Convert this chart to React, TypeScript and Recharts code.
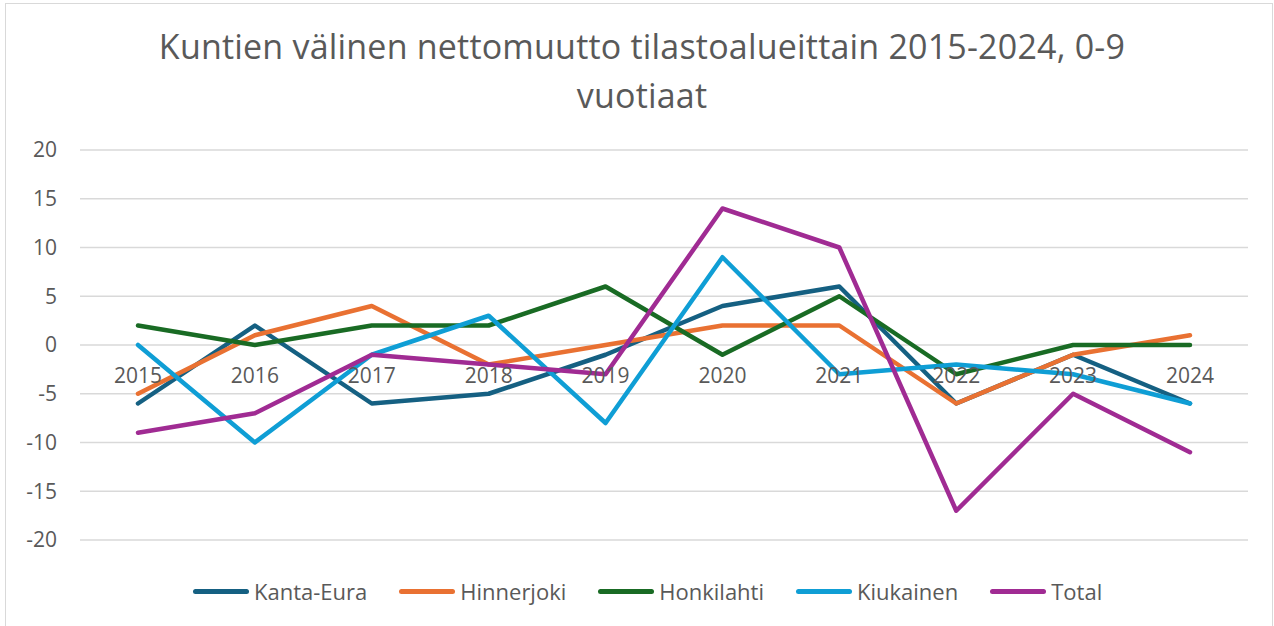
import { LineChart, Line, XAxis, YAxis, CartesianGrid } from "recharts";

const years = ["2015", "2016", "2017", "2018", "2019", "2020", "2021", "2022", "2023", "2024"];
const kantaEura = [-6, 2, -6, -5, -1, 4, 6, -6, -1, -6];
const hinnerjoki = [-5, 1, 4, -2, 0, 2, 2, -6, -1, 1];
const honkilahti = [2, 0, 2, 2, 6, -1, 5, -3, 0, 0];
const kiukainen = [0, -10, -1, 3, -8, 9, -3, -2, -3, -6];
const total = [-9, -7, -1, -2, -3, 14, 10, -17, -5, -11];
const yTicks = [-20, -15, -10, -5, 0, 5, 10, 15, 20];

const series = [
  { key: "kantaEura", name: "Kanta-Eura", color: "#156082", values: kantaEura },
  { key: "hinnerjoki", name: "Hinnerjoki", color: "#E97132", values: hinnerjoki },
  { key: "honkilahti", name: "Honkilahti", color: "#196B24", values: honkilahti },
  { key: "kiukainen", name: "Kiukainen", color: "#0F9ED5", values: kiukainen },
  { key: "total", name: "Total", color: "#A02B93", values: total },
];

const data = years.map((year, i) => {
  const row: Record<string, string | number> = { year };
  series.forEach((s) => {
    row[s.key] = s.values[i];
  });
  return row;
});

const FONT = "'Open Sans', sans-serif";
const TEXT = "#595959";

// year labels sit next to the zero line, not at the bottom of the plot
const YearTick = (props: any) => (
  <text
    x={props.x}
    y={props.y - 165}
    textAnchor="middle"
    dominantBaseline="central"
    fill={TEXT}
    fontSize={21}
    fontFamily={FONT}
  >
    {props.payload.value}
  </text>
);

const App = () => {
  return (
    <div
      style={{
        position: "absolute",
        left: 5,
        top: 3,
        width: 1266,
        height: 640,
        border: "1px solid #d9d9d9",
        background: "#fff",
        fontFamily: FONT,
      }}
    >
      <div
        style={{
          position: "absolute",
          top: 18,
          left: 0,
          width: 1272,
          textAlign: "center",
          fontSize: 34,
          letterSpacing: 0.2,
          lineHeight: "49px",
          color: TEXT,
        }}
      >
        Kuntien välinen nettomuutto tilastoalueittain 2015-2024, 0-9
        <br />
        vuotiaat
      </div>
      <LineChart
        width={1264}
        height={620}
        data={data}
        margin={{ top: 146, right: 22, bottom: 54, left: 0 }}
      >
        <CartesianGrid vertical={false} stroke="#d9d9d9" strokeWidth={1.3} />
        <XAxis
          dataKey="year"
          height={30}
          axisLine={false}
          tickLine={false}
          tickSize={0}
          tickMargin={0}
          padding={{ left: 58, right: 58 }}
          tick={<YearTick />}
          interval={0}
        />
        <YAxis
          width={74}
          domain={[-20, 20]}
          ticks={yTicks}
          axisLine={false}
          tickLine={false}
          tickSize={0}
          tickMargin={23}
          tick={{ fill: TEXT, fontSize: 21, fontFamily: FONT }}
        />
        {series.map((s) => (
          <Line
            key={s.key}
            dataKey={s.key}
            name={s.name}
            type="linear"
            stroke={s.color}
            strokeWidth={4.5}
            strokeLinecap="round"
            strokeLinejoin="round"
            dot={false}
            activeDot={false}
            isAnimationActive={false}
          />
        ))}
      </LineChart>
      <div
        style={{
          position: "absolute",
          top: 573,
          left: 187,
          display: "flex",
          alignItems: "center",
          height: 28,
          fontSize: 22,
          color: TEXT,
        }}
      >
        {series.map((s) => (
          <div key={s.key} style={{ display: "flex", alignItems: "center", marginRight: 32 }}>
            <span
              style={{
                display: "inline-block",
                width: 56,
                height: 5,
                borderRadius: 3,
                background: s.color,
                marginRight: 5,
              }}
            />
            <span>{s.name}</span>
          </div>
        ))}
      </div>
    </div>
  );
};

export default App;
